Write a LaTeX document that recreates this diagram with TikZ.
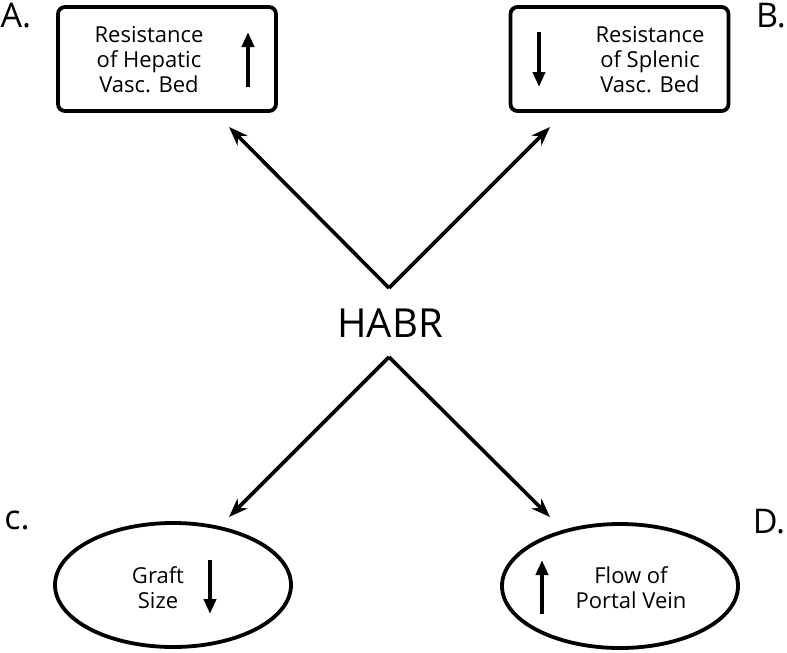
\documentclass[tikz,border=0pt]{standalone}
\usepackage{fontspec}
\setmainfont{Open Sans}
\usetikzlibrary{arrows.meta,shapes.geometric}
\begin{document}
\begin{tikzpicture}[x=1pt,y=-1pt,
  box/.style={draw,line width=3.8pt,rounded corners=7pt,minimum width=218pt,minimum height=104pt,inner sep=0pt},
  oval/.style={draw,ellipse,line width=3.8pt,minimum width=236pt,minimum height=124pt,inner sep=0pt},
  lbl/.style={font=\fontsize{22}{25}\selectfont,align=center,inner sep=0pt},
  letter/.style={font=\fontsize{34}{34}\selectfont,inner sep=0pt},
  conn/.style={line width=3.6pt,-{Stealth[length=19pt,width=14pt,inset=6pt]}},
  updown/.style={line width=3.8pt,-{Triangle[length=15pt,width=12pt]}}
]
\useasboundingbox (0,0) rectangle (787,653);
\node[box] (A) at (167,59) {};
\node[box] (B) at (619.5,59) {};
\node[oval] (C) at (173,585) {};
\node[oval] (D) at (620,586) {};
\node[lbl] (At) at (149,60) {Resistance\\of Hepatic\\Vasc. Bed};
\node[lbl] (Bt) at (650,60) {Resistance\\of Splenic\\Vasc. Bed};
\node[lbl] (Ct) at (158,588) {Graft\\Size};
\node[lbl] (Dt) at (631,588) {Flow of\\Portal Vein};
\coordinate (Aa1) at (248,87); \coordinate (Aa2) at (248,32);
\coordinate (Ba1) at (539,32); \coordinate (Ba2) at (539,87);
\coordinate (Ca1) at (210,560); \coordinate (Ca2) at (210,614);
\coordinate (Da1) at (542,614); \coordinate (Da2) at (542,560);
\draw[updown] (Aa1) -- (Aa2);
\draw[updown] (Ba1) -- (Ba2);
\draw[updown] (Ca1) -- (Ca2);
\draw[updown] (Da1) -- (Da2);
\node[letter] (LA) at (16,16) {A.};
\node[letter] (LB) at (771,16) {B.};
\node[letter] (LC) at (17,520) {c.};
\node[letter] (LD) at (769,522) {D.};
\node[font=\fontsize{40}{40}\selectfont,inner sep=0pt] (H) at (390,323) {HABR};
\coordinate (top) at (389,288);
\coordinate (bot) at (389,357);
\coordinate (tA) at (229,127);
\coordinate (tB) at (550,127);
\coordinate (tC) at (229,517);
\coordinate (tD) at (550,517);
\draw[conn] (top) -- (tA);
\draw[conn] (top) -- (tB);
\draw[conn] (bot) -- (tC);
\draw[conn] (bot) -- (tD);
\end{tikzpicture}
\end{document}
